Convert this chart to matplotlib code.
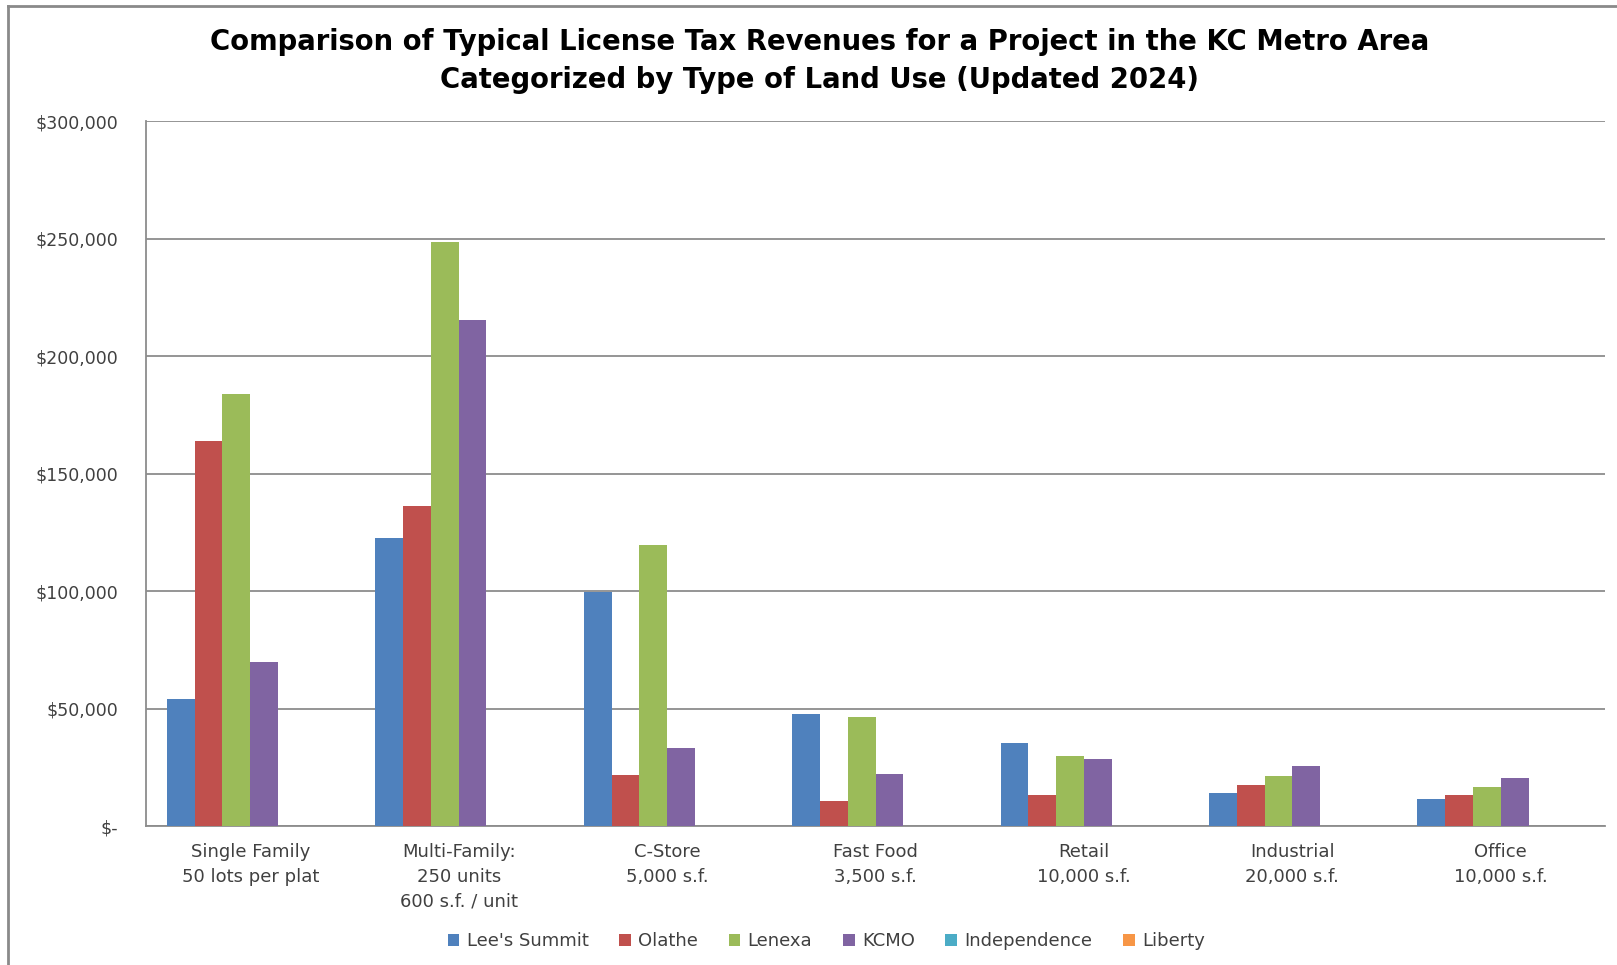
import numpy as np
import matplotlib
matplotlib.use("Agg")
import matplotlib.pyplot as plt
from matplotlib.ticker import FuncFormatter, MultipleLocator
from matplotlib.lines import Line2D

# data (US dollars)
categories = ["Single Family\n50 lots per plat",
              "Multi-Family:\n250 units\n600 s.f. / unit",
              "C-Store\n5,000 s.f.",
              "Fast Food\n3,500 s.f.",
              "Retail\n10,000 s.f.",
              "Industrial\n20,000 s.f.",
              "Office\n10,000 s.f."]
series_names = ["Lee's Summit", "Olathe", "Lenexa", "KCMO", "Independence", "Liberty"]
lees_summit = [54000, 122500, 99700, 47500, 35400, 14000, 11700]
olathe = [164000, 136000, 21800, 10500, 13300, 17500, 13100]
lenexa = [183800, 248600, 119500, 46200, 29800, 21500, 16800]
kcmo = [70000, 215500, 33400, 22000, 28700, 25500, 20400]
independence = [0, 0, 0, 0, 0, 0, 0]
liberty = [0, 0, 0, 0, 0, 0, 0]
colors = ["#4F81BD", "#C0504D", "#9BBB59", "#8064A2", "#4BACC6", "#F79646"]

values = [lees_summit, olathe, lenexa, kcmo, independence, liberty]

fig = plt.figure(figsize=(16.17, 9.65), dpi=100)
ax = fig.add_axes([0.0903, 0.1440, 0.9023, 0.7306])

x = np.arange(len(categories))
n = len(series_names)
w = 1 / 7.5  # excel gap width 150%
for i, (name, vals) in enumerate(zip(series_names, values)):
    ax.bar(x + (i - (n - 1) / 2) * w, vals, width=w, color=colors[i],
           linewidth=0, label=name, zorder=3)

ax.set_xlim(-0.5, len(categories) - 0.5)
ax.set_ylim(0, 300000)
ax.yaxis.set_major_locator(MultipleLocator(50000))
ax.yaxis.set_major_formatter(FuncFormatter(lambda v, p: "$-" if v == 0 else f"${v:,.0f}"))
ax.grid(axis="y", color="#8c8c8c", linewidth=1.3, zorder=0)
ax.set_axisbelow(True)

for s in ["top", "right"]:
    ax.spines[s].set_visible(False)
for s in ["left", "bottom"]:
    ax.spines[s].set_color("#8c8c8c")
    ax.spines[s].set_linewidth(1.3)

ax.set_xticks(x)
ax.set_xticklabels(categories, fontsize=13, color="#404040", linespacing=1.5)
ax.tick_params(axis="both", length=0)
ax.tick_params(axis="x", pad=12)
ax.tick_params(axis="y", labelsize=12.5, labelcolor="#404040", pad=20)

fig.text(0.507, 0.956, "Comparison of Typical License Tax Revenues for a Project in the KC Metro Area",
         ha="center", va="center", fontsize=19.8, fontweight="bold")
fig.text(0.507, 0.917, "Categorized by Type of Land Use (Updated 2024)",
         ha="center", va="center", fontsize=19.8, fontweight="bold")

fig.legend(loc="center", bbox_to_anchor=(0.511, 0.025), ncol=6, frameon=False,
           fontsize=13, handlelength=0.65, handleheight=0.65, handletextpad=0.4,
           columnspacing=1.7, labelcolor="#404040")

# outer chart border (left and top visible in the crop)
fig.add_artist(Line2D([0.005, 0.005], [0, 0.994], transform=fig.transFigure,
                      color="#8a8a8a", linewidth=2))
fig.add_artist(Line2D([0.005, 1.0], [0.994, 0.994], transform=fig.transFigure,
                      color="#8a8a8a", linewidth=2))

fig.savefig("out.png", dpi=100)
